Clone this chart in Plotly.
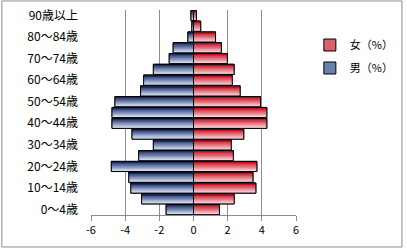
import plotly.graph_objects as go

ages = ["0～4歳", "5～9歳", "10～14歳", "15～19歳", "20～24歳", "25～29歳", "30～34歳",
        "35～39歳", "40～44歳", "45～49歳", "50～54歳", "55～59歳", "60～64歳", "65～69歳",
        "70～74歳", "75～79歳", "80～84歳", "85～89歳", "90歳以上"]
male = [-1.6, -3.04, -3.67, -3.79, -4.81, -3.21, -2.35, -3.6, -4.77, -4.77,
        -4.6, -3.1, -2.92, -2.35, -1.42, -1.19, -0.33, -0.1, -0.15]
female = [1.52, 2.38, 3.65, 3.48, 3.71, 2.33, 2.21, 2.94, 4.29, 4.29,
          3.92, 2.73, 2.27, 2.38, 1.98, 1.63, 1.29, 0.42, 0.17]
shown_labels = ages[::2]
x_ticks = [-6, -4, -2, 0, 2, 4, 6]

W = 0.94
N = 8
FONT = "Noto Sans CJK JP, Noto Sans, sans-serif"
PLOT_W = 407 - 91 - 5
X_END = 207 / PLOT_W

def lerp(c1, c2, t):
    return "rgb(%d,%d,%d)" % tuple(round(a + (b - a) * t) for a, b in zip(c1, c2))

fig = go.Figure()

series = [
    ("女（%）", female, (196, 16, 32), (248, 214, 220), "rgb(222,96,110)", 1),
    ("男（%）", male, (26, 46, 106), (218, 226, 242), "rgb(108,128,176)", 2),
]
for name, vals, dark, light, mid, rank in series:
    fig.add_trace(go.Bar(y=ages, x=vals, orientation="h", name=name, width=W,
                         marker=dict(color=mid, line=dict(color="black", width=1)),
                         legendrank=rank, legendgroup=name, showlegend=True,
                         hoverinfo="skip"))
    for k in range(N):
        t = 1 - k / (N - 1)  # k=0 lightest (bottom), k=N-1 darkest (top)
        fig.add_trace(go.Bar(y=ages, x=vals, orientation="h", width=W - k * W / N,
                             offset=-W / 2 + k * W / N,
                             marker=dict(color=lerp(dark, light, t), line=dict(width=0)),
                             legendgroup=name, showlegend=False, hoverinfo="skip"))
    fig.add_trace(go.Bar(y=ages, x=vals, orientation="h", width=W,
                         marker=dict(color="rgba(0,0,0,0)", line=dict(color="black", width=1)),
                         legendgroup=name, showlegend=False, hoverinfo="skip"))

fig.update_layout(
    width=407, height=249,
    margin=dict(l=91, r=5, t=10, b=34),
    barmode="overlay",
    paper_bgcolor="white", plot_bgcolor="white",
    font=dict(family=FONT, size=11, color="black"),
    legend=dict(x=(312 - 91) / PLOT_W, y=0.90, xanchor="left", yanchor="top",
                font=dict(family=FONT, size=11), itemwidth=30,
                tracegroupgap=4, bgcolor="rgba(0,0,0,0)"),
    showlegend=True,
    shapes=[dict(type="rect", xref="paper", yref="paper",
                 x0=-90 / PLOT_W, x1=(405 - 91) / PLOT_W, y0=-0.156, y1=1.044,
                 line=dict(color="#8c8c8c", width=1), fillcolor="rgba(0,0,0,0)")],
)
fig.update_xaxes(domain=[0, X_END], range=[-6, 6], tickvals=x_ticks,
                 ticktext=[str(v) for v in x_ticks],
                 showgrid=True, gridcolor="#8c8c8c", gridwidth=1,
                 zeroline=True, zerolinecolor="#8c8c8c", zerolinewidth=1,
                 showline=True, linecolor="#8c8c8c", ticks="outside", ticklen=5,
                 tickcolor="#8c8c8c", tickfont=dict(size=11), fixedrange=True)
fig.update_yaxes(categoryorder="array", categoryarray=ages, range=[-0.5, 18.5],
                 tickmode="array", tickvals=shown_labels, ticktext=shown_labels,
                 showgrid=False, zeroline=False, showline=False, ticks="",
                 ticklabelstandoff=12, tickfont=dict(size=12), fixedrange=True)

fig.write_html("out.html")
